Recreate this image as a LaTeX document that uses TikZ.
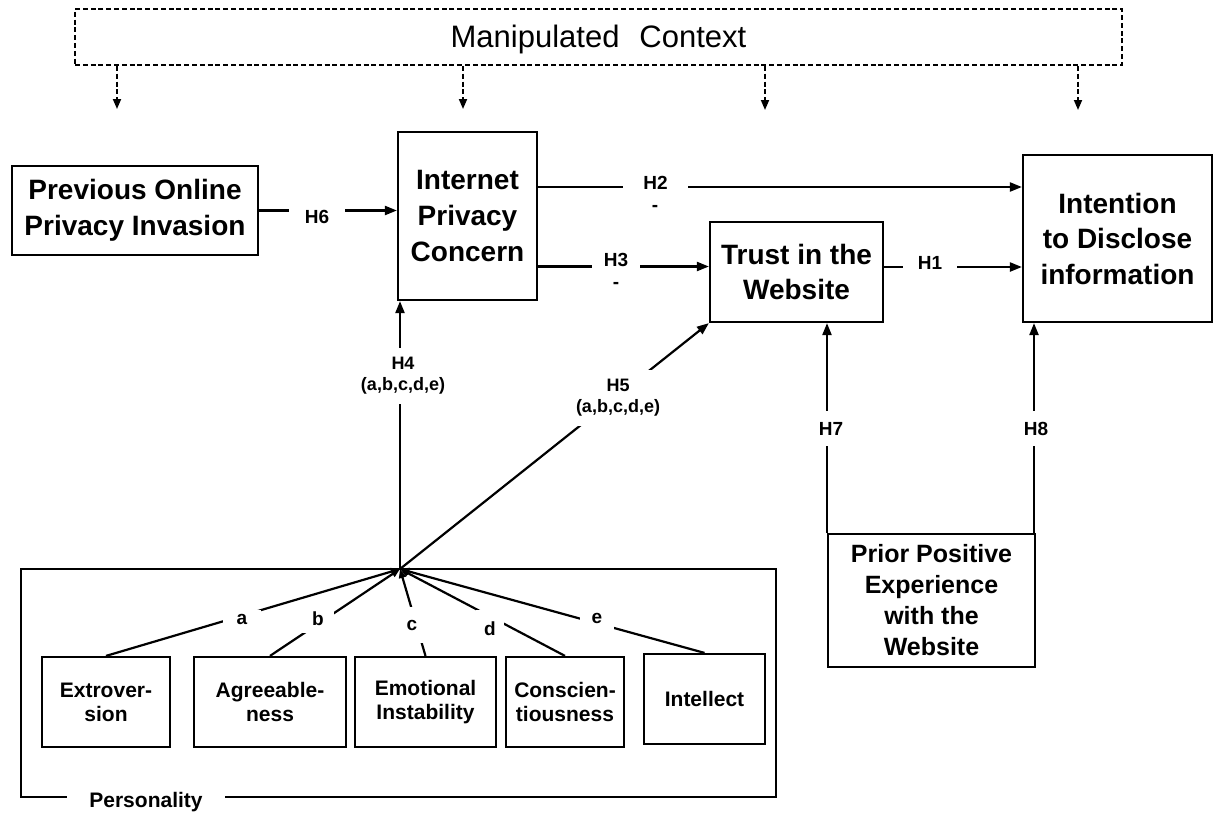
\documentclass[tikz,border=0pt]{standalone}
\usepackage{fontspec}
\setmainfont{Liberation Sans}
\usetikzlibrary{arrows.meta}
\begin{document}
\begin{tikzpicture}[x=1pt,y=-1pt,
  box/.style={draw, line width=2.2pt, inner sep=0pt, align=center, font=\bfseries\fontsize{28}{35.5}\selectfont},
  subbox/.style={draw, line width=2.2pt, inner sep=0pt, align=center, minimum height=90pt, font=\bfseries\fontsize{21}{24}\selectfont},
  frame/.style={draw, line width=2pt, inner sep=0pt},
  ctxbox/.style={draw, line width=1.8pt, dash pattern=on 5pt off 2.8pt, inner sep=0pt, font=\fontsize{31}{36}\selectfont, text depth=1.6pt},
  conn/.style={line width=2.2pt, -{Triangle[length=12pt,width=9pt]}},
  spoke/.style={line width=2.2pt, -{Triangle[length=9pt,width=7pt]}},
  dconn/.style={line width=1.8pt, dash pattern=on 5pt off 2.8pt, -{Triangle[length=10pt,width=8pt]}},
  lab/.style={fill=white, anchor=base, font=\bfseries\fontsize{19}{21}\selectfont},
  sign/.style={anchor=base, inner sep=0pt, font=\bfseries\fontsize{19}{21}\selectfont},
  twolab/.style={fill=white, align=center, inner xsep=3pt, inner ysep=9pt, font=\bfseries\fontsize{18}{21}\selectfont}
]
\useasboundingbox (0,0) rectangle (1214,814);
\fill[white] (0,0) rectangle (1214,814);

% context
\node[ctxbox, minimum width=1047pt, minimum height=56pt] (ctx) at (598.5,37) {Manipulated\hspace{20pt}Context};
\coordinate (d1) at (117,109);
\coordinate (d2) at (463,109);
\coordinate (d3) at (765,110);
\coordinate (d4) at (1078,110);
\draw[dconn] (ctx.south -| d1) -- (d1);
\draw[dconn] (ctx.south -| d2) -- (d2);
\draw[dconn] (ctx.south -| d3) -- (d3);
\draw[dconn] (ctx.south -| d4) -- (d4);

% main boxes
\node[box, minimum width=246pt, minimum height=89pt] (prev) at (135,210.5) {Previous Online\\Privacy Invasion};
\node[box, minimum width=139pt, minimum height=168pt] (ipc) at (467.5,216) {Internet\\Privacy\\Concern};
\node[box, minimum width=173pt, minimum height=100pt] (trust) at (796.5,272) {Trust in the\\Website};
\node[box, minimum width=189pt, minimum height=167pt] (intent) at (1117.5,238.5) {Intention\\to Disclose\\information};
\node[box, line width=2pt, font=\bfseries\fontsize{25}{31}\selectfont, minimum width=207pt, minimum height=133pt] (prior) at (931.5,600.5) {Prior Positive\\Experience\\with the\\Website};

% personality
\node[frame, minimum width=755pt, minimum height=228pt] (pers) at (398.5,683) {};
\node[subbox, minimum width=128pt] (ext) at (106,702) {Extrover-\\sion};
\node[subbox, minimum width=152pt] (agr) at (270,702) {Agreeable-\\ness};
\node[subbox, minimum width=141pt] (emo) at (425.5,702) {Emotional\\Instability};
\node[subbox, minimum width=118pt] (con) at (565,702) {Conscien-\\tiousness};
\node[subbox, minimum width=121pt] (intl) at (704.5,699) {Intellect};
\node[lab, inner xsep=22pt, font=\bfseries\fontsize{21}{24}\selectfont] (perslab) at (146,807) {Personality};

\coordinate (conv) at (400,569);

% spokes
\draw[spoke] (ext.north) -- (conv);
\draw[spoke] (agr.north) -- (conv);
\draw[spoke] (emo.north) -- (conv);
\draw[spoke] (con.north) -- (conv);
\draw[spoke] (intl.north) -- (conv);
\node[lab, inner xsep=14pt, inner ysep=4pt] (la) at (242,624) {a};
\node[lab, inner xsep=10pt, inner ysep=8pt] (lb) at (318,625) {b};
\node[lab, inner xsep=6pt, inner ysep=13pt] (lc) at (412,630) {c};
\node[lab, inner xsep=8pt, inner ysep=11pt] (ld) at (490,635) {d};
\node[lab, inner xsep=12pt, inner ysep=7pt] (le) at (597,623) {e};

% hypotheses
\draw[conn] (prev.east) -- (prev.east -| ipc.west);
\node[lab, inner xsep=16pt] (l6) at (317,223.8) {H6};

\draw[conn] ([yshift=29pt]ipc.east) -- ([yshift=29pt]ipc.east -| intent.west);
\node[lab, inner xsep=20.5pt] (l2) at (655.5,189) {H2};
\node[sign] (m2) at (655,211) {-};

\draw[conn] ([yshift=-50.5pt]ipc.east) -- ([yshift=-50.5pt]ipc.east -| trust.west);
\node[lab, inner xsep=12pt] (l3) at (616,266) {H3};
\node[sign] (m3) at (616,288) {-};

\draw[conn] ([yshift=5pt]trust.east) -- ([yshift=5pt]trust.east -| intent.west);
\node[lab, inner xsep=15pt] (l1) at (930,269) {H1};

\draw[conn] (conv) -- (conv |- ipc.south);
\node[twolab] (l4) at (403,376) {H4\\(a,b,c,d,e)};

\draw[conn] (conv) -- (trust.south west);
\node[twolab] (l5) at (618,398) {H5\\(a,b,c,d,e)};

\draw[conn] (prior.north west) -- (prior.north west |- trust.south);
\node[lab, inner xsep=3pt, inner ysep=11pt] (l7) at (831,435) {H7};

\draw[conn] ([xshift=-2pt]prior.north east) -- ([xshift=-2pt]prior.north east |- intent.south);
\node[lab, inner xsep=3pt, inner ysep=11pt] (l8) at (1036,435) {H8};
\end{tikzpicture}
\end{document}
